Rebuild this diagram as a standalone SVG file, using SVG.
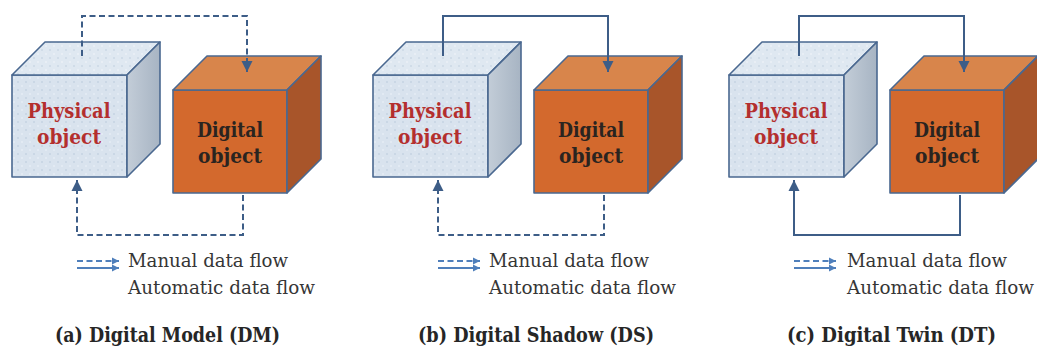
<svg xmlns="http://www.w3.org/2000/svg" width="1037" height="347" viewBox="0 0 1037 347">
<style>
.edge{stroke:#4a6890;stroke-width:1.6;stroke-linejoin:round}
.pfront{fill:url(#dots)}
.ptop{fill:url(#dotsTop)}
.pside{fill:url(#sideGrad)}
.dfront{fill:#d3692d}
.dtop{fill:#d8854b}
.dside{fill:#a8552a}
.ptxt{font-family:"DejaVu Serif","Liberation Serif",serif;font-weight:bold;font-size:19.5px;fill:#b42f2e;text-anchor:middle}
.dtxt{font-family:"DejaVu Serif","Liberation Serif",serif;font-weight:bold;font-size:19.5px;fill:#2a2420;text-anchor:middle}
.conn{fill:none;stroke:#3d5d87;stroke-width:2}
.dash{stroke-dasharray:6 3.5}
.leg{fill:none;stroke:#4f7fbb;stroke-width:2}
.legtxt{font-family:"DejaVu Serif","Liberation Serif",serif;font-size:18.5px;fill:#363636}
.title{font-family:"DejaVu Serif","Liberation Serif",serif;font-weight:bold;font-size:21px;fill:#262626}
</style>
<defs>
<pattern id="dots" width="8" height="8" patternUnits="userSpaceOnUse">
<rect width="8" height="8" fill="#d9e3ee"/>
<circle cx="2" cy="2" r="1" fill="#c6d3e2"/>
<circle cx="6" cy="6" r="1" fill="#e6edf5"/>
</pattern>
<pattern id="dotsTop" width="8" height="8" patternUnits="userSpaceOnUse">
<rect width="8" height="8" fill="#dfe8f1"/>
<circle cx="2" cy="2" r="1" fill="#ccd8e6"/>
<circle cx="6" cy="6" r="1" fill="#ecf1f7"/>
</pattern>
<linearGradient id="sideGrad" x1="0" y1="0" x2="1" y2="0">
<stop offset="0" stop-color="#c3cdd8"/>
<stop offset="1" stop-color="#a7b4c3"/>
</linearGradient>
<marker id="arr" markerWidth="12" markerHeight="12" viewBox="0 0 12 12" refX="11" refY="6" orient="auto" markerUnits="userSpaceOnUse">
<path d="M0,0.5 L11,6 L0,11.5 Z" fill="#3d5d87"/>
</marker>
<marker id="legArr" markerWidth="8" markerHeight="8" viewBox="0 0 8 8" refX="7" refY="4" orient="auto" markerUnits="userSpaceOnUse">
<path d="M0,0.5 L7,4 L0,7.5 Z" fill="#4f7fbb"/>
</marker>
</defs>
<rect width="1037" height="347" fill="#ffffff"/>

<!-- Panel (a) -->
<g id="panel-a">
<g id="a-physical">
<rect class="pfront edge" x="12" y="75" width="115" height="102"/>
<polygon class="ptop edge" points="12,75 45,42 160,42 127,75"/>
<polygon class="pside edge" points="127,75 160,42 160,144 127,177"/>
<text class="ptxt" x="69" y="118" textLength="83" lengthAdjust="spacingAndGlyphs">Physical</text>
<text class="ptxt" x="69" y="144" textLength="64" lengthAdjust="spacingAndGlyphs">object</text>
</g>
<g id="a-digital">
<rect class="dfront edge" x="173" y="90" width="114" height="103"/>
<polygon class="dtop edge" points="173,90 207,56 321,56 287,90"/>
<polygon class="dside edge" points="287,90 321,56 321,159 287,193"/>
<text class="dtxt" x="230" y="137" textLength="66" lengthAdjust="spacingAndGlyphs">Digital</text>
<text class="dtxt" x="230" y="163" textLength="64" lengthAdjust="spacingAndGlyphs">object</text>
</g>
<g id="a-connectors">
<path class="conn dash" d="M82,56 V16 H247 V72" marker-end="url(#arr)"/>
<path class="conn dash" d="M243,195 V235 H77 V180" marker-end="url(#arr)"/>
</g>
<g id="a-legend">
<path class="leg dash" d="M77,261 H119" stroke-dasharray="6 3" marker-end="url(#legArr)"/>
<path class="leg" d="M77,268 H119" marker-end="url(#legArr)"/>
<text class="legtxt" x="128" y="267" textLength="160" lengthAdjust="spacingAndGlyphs">Manual data flow</text>
<text class="legtxt" x="128" y="294" textLength="187" lengthAdjust="spacingAndGlyphs">Automatic data flow</text>
</g>
<text id="a-title" class="title" x="55" y="342" textLength="225" lengthAdjust="spacingAndGlyphs">(a) Digital Model (DM)</text>
</g>

<!-- Panel (b) -->
<g id="panel-b" transform="translate(361,0)">
<g id="b-physical">
<rect class="pfront edge" x="12" y="75" width="115" height="102"/>
<polygon class="ptop edge" points="12,75 45,42 160,42 127,75"/>
<polygon class="pside edge" points="127,75 160,42 160,144 127,177"/>
<text class="ptxt" x="69" y="118" textLength="83" lengthAdjust="spacingAndGlyphs">Physical</text>
<text class="ptxt" x="69" y="144" textLength="64" lengthAdjust="spacingAndGlyphs">object</text>
</g>
<g id="b-digital">
<rect class="dfront edge" x="173" y="90" width="114" height="103"/>
<polygon class="dtop edge" points="173,90 207,56 321,56 287,90"/>
<polygon class="dside edge" points="287,90 321,56 321,159 287,193"/>
<text class="dtxt" x="230" y="137" textLength="66" lengthAdjust="spacingAndGlyphs">Digital</text>
<text class="dtxt" x="230" y="163" textLength="64" lengthAdjust="spacingAndGlyphs">object</text>
</g>
<g id="b-connectors">
<path class="conn" d="M82,56 V16 H247 V72" marker-end="url(#arr)"/>
<path class="conn dash" d="M243,195 V235 H77 V180" marker-end="url(#arr)"/>
</g>
<g id="b-legend">
<path class="leg dash" d="M77,261 H119" stroke-dasharray="6 3" marker-end="url(#legArr)"/>
<path class="leg" d="M77,268 H119" marker-end="url(#legArr)"/>
<text class="legtxt" x="128" y="267" textLength="160" lengthAdjust="spacingAndGlyphs">Manual data flow</text>
<text class="legtxt" x="128" y="294" textLength="187" lengthAdjust="spacingAndGlyphs">Automatic data flow</text>
</g>
<text id="b-title" class="title" x="57" y="342" textLength="236" lengthAdjust="spacingAndGlyphs">(b) Digital Shadow (DS)</text>
</g>

<!-- Panel (c) -->
<g id="panel-c" transform="translate(717,0)">
<g id="c-physical">
<rect class="pfront edge" x="12" y="75" width="115" height="102"/>
<polygon class="ptop edge" points="12,75 45,42 160,42 127,75"/>
<polygon class="pside edge" points="127,75 160,42 160,144 127,177"/>
<text class="ptxt" x="69" y="118" textLength="83" lengthAdjust="spacingAndGlyphs">Physical</text>
<text class="ptxt" x="69" y="144" textLength="64" lengthAdjust="spacingAndGlyphs">object</text>
</g>
<g id="c-digital">
<rect class="dfront edge" x="173" y="90" width="114" height="103"/>
<polygon class="dtop edge" points="173,90 207,56 321,56 287,90"/>
<polygon class="dside edge" points="287,90 321,56 321,159 287,193"/>
<text class="dtxt" x="230" y="137" textLength="66" lengthAdjust="spacingAndGlyphs">Digital</text>
<text class="dtxt" x="230" y="163" textLength="64" lengthAdjust="spacingAndGlyphs">object</text>
</g>
<g id="c-connectors">
<path class="conn" d="M82,56 V16 H247 V72" marker-end="url(#arr)"/>
<path class="conn" d="M243,195 V235 H77 V180" marker-end="url(#arr)"/>
</g>
<g id="c-legend">
<path class="leg dash" d="M77,261 H119" stroke-dasharray="6 3" marker-end="url(#legArr)"/>
<path class="leg" d="M77,268 H119" marker-end="url(#legArr)"/>
<text class="legtxt" x="130" y="267" textLength="160" lengthAdjust="spacingAndGlyphs">Manual data flow</text>
<text class="legtxt" x="130" y="294" textLength="187" lengthAdjust="spacingAndGlyphs">Automatic data flow</text>
</g>
<text id="c-title" class="title" x="70" y="342" textLength="209" lengthAdjust="spacingAndGlyphs">(c) Digital Twin (DT)</text>
</g>
</svg>
